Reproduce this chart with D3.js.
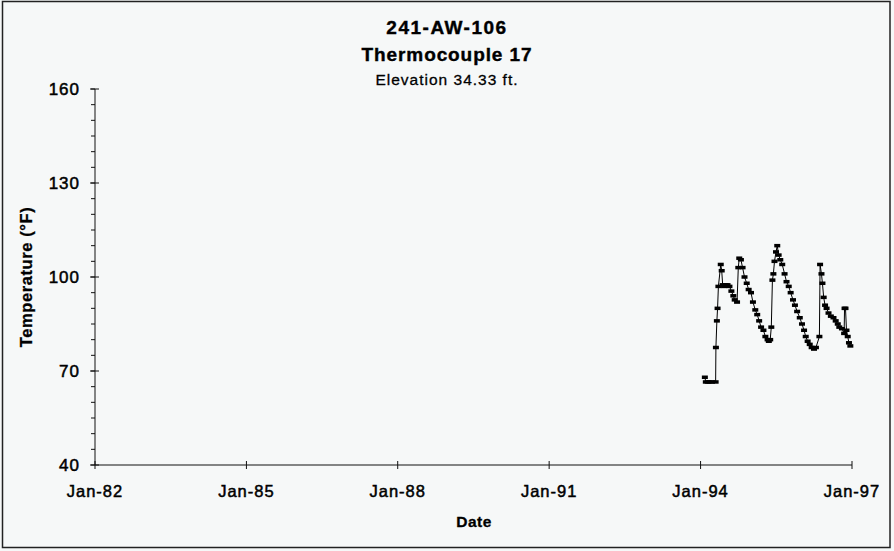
<!DOCTYPE html>
<html>
<head>
<meta charset="utf-8">
<script src="https://cdn.jsdelivr.net/npm/d3@7"></script>
<style>
  html, body { margin: 0; padding: 0; background: #f6f8f8; }
  svg { display: block; font-family: "Liberation Sans", Arial, sans-serif; }
</style>
</head>
<body>
<div id="chart"></div>
<script>
// readings for TC 17
const dates = [
  "1994-02-01","1994-02-08","1994-02-22","1994-03-08","1994-03-25","1994-04-20",
  "1994-04-22","1994-04-29","1994-05-04","1994-05-10","1994-05-27","1994-06-03",
  "1994-06-10","1994-06-20","1994-07-01","1994-07-15","1994-07-29","1994-08-12",
  "1994-08-26","1994-09-05","1994-09-22","1994-10-01","1994-10-08","1994-10-20",
  "1994-11-01","1994-11-15","1994-12-01","1994-12-15","1995-01-01","1995-01-15",
  "1995-02-01","1995-02-15","1995-03-01","1995-03-15","1995-04-01","1995-04-15",
  "1995-05-01","1995-05-10","1995-05-20","1995-05-28","1995-06-05","1995-06-12",
  "1995-06-20","1995-07-01","1995-07-10","1995-07-20","1995-08-01","1995-08-15",
  "1995-09-01","1995-09-15","1995-10-01","1995-10-15","1995-11-01","1995-11-15",
  "1995-12-01","1995-12-20","1996-01-05","1996-01-20","1996-02-01","1996-02-15",
  "1996-03-01","1996-03-15","1996-04-01","1996-04-15","1996-05-10","1996-05-15",
  "1996-05-25","1996-06-01","1996-06-10","1996-06-20","1996-07-01","1996-07-15",
  "1996-08-01","1996-08-20","1996-09-05","1996-09-20","1996-10-01","1996-10-20",
  "1996-11-05","1996-11-08","1996-11-15","1996-11-22","1996-12-01","1996-12-10",
  "1996-12-20"
];
const temps = [
  68, 66.5, 66.5, 66.5, 66.5, 66.5,
  77.5, 86, 90, 97, 104, 102,
  97.5, 97, 97.5, 97.5, 97, 95.5,
  94, 92.7, 92, 103, 106, 105.5,
  103, 100, 98, 96, 95, 92,
  89.5, 88, 86, 84, 83, 81,
  80, 79.5, 80, 84, 99, 101,
  105, 108, 110, 107, 105.5, 104,
  101, 98.5, 97, 95, 92.7, 91,
  89, 87, 85, 83, 81, 79.5,
  78.5, 77.5, 77, 77.5, 81, 104,
  101, 98, 93.5, 91, 90, 88.5,
  87.5, 87, 86, 85, 84, 83.5,
  82, 90, 90, 83, 81, 79,
  78
];
const xTickLabels = ["Jan-82","Jan-85","Jan-88","Jan-91","Jan-94","Jan-97"];
const xTickDates = ["1982-01-01","1985-01-01","1988-01-01","1991-01-01","1994-01-01","1997-01-01"];
const yTicks = [40, 70, 100, 130, 160];
const titleLines = ["241-AW-106", "Thermocouple 17", "Elevation 34.33 ft."];

const W = 894, H = 551;
const m = { l: 95, r: 42, t: 89, b: 86 };
const parse = d3.timeParse("%Y-%m-%d");
const data = dates.map((d, i) => ({ date: parse(d), v: temps[i] }));

const svg = d3.select("#chart").append("svg").attr("width", W).attr("height", H);
svg.append("rect").attr("x", 2.5).attr("y", 1.5).attr("width", 887.5).attr("height", 546)
  .attr("fill", "#f6f8f8").attr("stroke", "#222").attr("stroke-width", 1.5);

const x = d3.scaleTime().domain([parse("1982-01-01"), parse("1997-01-01")]).range([m.l, W - m.r]);
const y = d3.scaleLinear().domain([40, 160]).range([H - m.b, m.t]);

// titles
svg.append("text").attr("x", 447).attr("y", 34).attr("text-anchor", "middle")
  .attr("font-size", 19).attr("font-weight", "bold").attr("letter-spacing", 1.5)
  .attr("stroke", "#000").attr("stroke-width", 0.4).text(titleLines[0]);
svg.append("text").attr("x", 447).attr("y", 61).attr("text-anchor", "middle")
  .attr("font-size", 19).attr("font-weight", "bold").attr("letter-spacing", 0.9)
  .attr("stroke", "#000").attr("stroke-width", 0.4).text(titleLines[1]);
svg.append("text").attr("x", 447).attr("y", 85).attr("text-anchor", "middle")
  .attr("font-size", 15.5).attr("letter-spacing", 1)
  .attr("stroke", "#000").attr("stroke-width", 0.3).text(titleLines[2]);

// y axis: minor ticks every 5, majors cross the axis
const gy = svg.append("g").attr("transform", `translate(${m.l},0)`);
gy.append("line").attr("y1", y(40)).attr("y2", y(160)).attr("stroke", "#111");
gy.selectAll("line.minor").data(d3.range(40, 161, 5)).join("line").attr("class", "minor")
  .attr("x1", -4).attr("x2", 0).attr("y1", d => y(d)).attr("y2", d => y(d)).attr("stroke", "#111");
gy.selectAll("line.major").data(yTicks).join("line").attr("class", "major")
  .attr("x1", -5).attr("x2", 4).attr("y1", d => y(d)).attr("y2", d => y(d)).attr("stroke", "#111");
gy.selectAll("text").data(yTicks).join("text")
  .attr("x", -15).attr("y", d => y(d)).attr("dy", "0.36em").attr("text-anchor", "end")
  .attr("font-size", 17).attr("letter-spacing", 1).attr("fill", "#000")
  .attr("stroke", "#000").attr("stroke-width", 0.5).text(d => d);

// x axis
const gx = svg.append("g").attr("transform", `translate(0,${y(40)})`);
gx.append("line").attr("x1", x.range()[0]).attr("x2", x.range()[1]).attr("stroke", "#111");
gx.selectAll("line.tick").data(xTickDates).join("line").attr("class", "tick")
  .attr("x1", d => x(parse(d))).attr("x2", d => x(parse(d))).attr("y1", -4).attr("y2", 4).attr("stroke", "#111");
gx.selectAll("text").data(xTickDates).join("text")
  .attr("x", d => x(parse(d))).attr("y", 32).attr("text-anchor", "middle")
  .attr("font-size", 16.5).attr("letter-spacing", 1).attr("fill", "#000")
  .attr("stroke", "#000").attr("stroke-width", 0.5)
  .text((d, i) => xTickLabels[i]);

// axis titles
svg.append("text").attr("x", 474).attr("y", 527).attr("text-anchor", "middle")
  .attr("font-size", 15.5).attr("font-weight", "bold").attr("letter-spacing", 0.5)
  .attr("stroke", "#000").attr("stroke-width", 0.3).text("Date");
svg.append("text").attr("transform", `translate(32,${(y(40) + y(160)) / 2}) rotate(-90)`)
  .attr("text-anchor", "middle").attr("font-size", 16.5).attr("font-weight", "bold")
  .attr("letter-spacing", 0.6).attr("stroke", "#000").attr("stroke-width", 0.3)
  .text("Temperature (°F)");

// series
const line = d3.line().x(d => x(d.date)).y(d => y(d.v));
svg.append("path").attr("d", line(data)).attr("fill", "none").attr("stroke", "#000").attr("stroke-width", 1);
svg.append("g").selectAll("rect").data(data).join("rect")
  .attr("x", d => x(d.date) - 3).attr("y", d => y(d.v) - 1.75)
  .attr("width", 6).attr("height", 3.5).attr("fill", "#000");
</script>
</body>
</html>
